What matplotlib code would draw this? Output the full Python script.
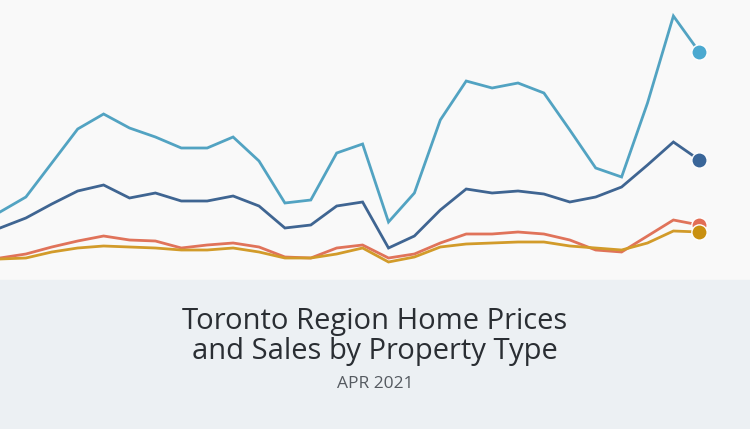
import matplotlib
matplotlib.use("Agg")
import matplotlib.pyplot as plt
from matplotlib.patches import Rectangle

months = list(range(28))
# values read as "height above bottom" (arbitrary index units)
detached = [212,197,163,129,114,128,137,148,148,137,161,203,200,153,144,222,193,120,81,88,83,93,130,168,177,103,16,52]
semi = [228,218,204,191,185,198,193,201,201,196,206,228,225,206,202,248,236,210,189,193,191,194,202,197,187,165,142,160]
town = [258,254,247,241,236,240,241,248,245,243,247,257,258,248,245,258,254,243,234,234,232,234,240,250,252,236,220,225]
condo = [259,258,252,248,246,247,248,250,250,248,252,258,258,254,248,262,257,247,244,243,242,242,246,248,250,243,231,232]
series = [(detached, "#52A3C2", "#4BA9D0"), (semi, "#3F6592", "#3A6699"),
          (town, "#E0735A", "#E26E55"), (condo, "#D29B2A", "#C99010")]

H = 429
fig = plt.figure(figsize=(7.5, 4.29), dpi=100, facecolor="#F9F9F9")
ax = fig.add_axes([0, 0, 1, 1])
ax.set_xlim(-0.0, 750 / 25.9)
ax.set_ylim(H, 0)
ax.axis("off")
ax.add_patch(Rectangle((-1, 280), 40, 200, color="#ECF0F3", zorder=0))
for vals, lc, mc in series:
    ax.plot(months, vals, color=lc, lw=2, zorder=2, solid_joinstyle="miter")
for vals, lc, mc in series:
    ax.plot([months[-1]], [vals[-1]], "o", ms=11, color=mc, mec="white", mew=1, zorder=3)

for txt, yy in [("Toronto Region Home Prices", 322), ("and Sales by Property Type", 352)]:
    fig.text(0.5, 1 - yy / H, txt, ha="center", va="center",
             fontsize=21, color="#2A2E33", family="Open Sans", weight="normal")
fig.text(0.5, 1 - 384 / H, "APR 2021", ha="center", va="center",
         fontsize=12.5, color="#555A60", family="Open Sans")
fig.savefig("out.png", dpi=100, facecolor=fig.get_facecolor())
